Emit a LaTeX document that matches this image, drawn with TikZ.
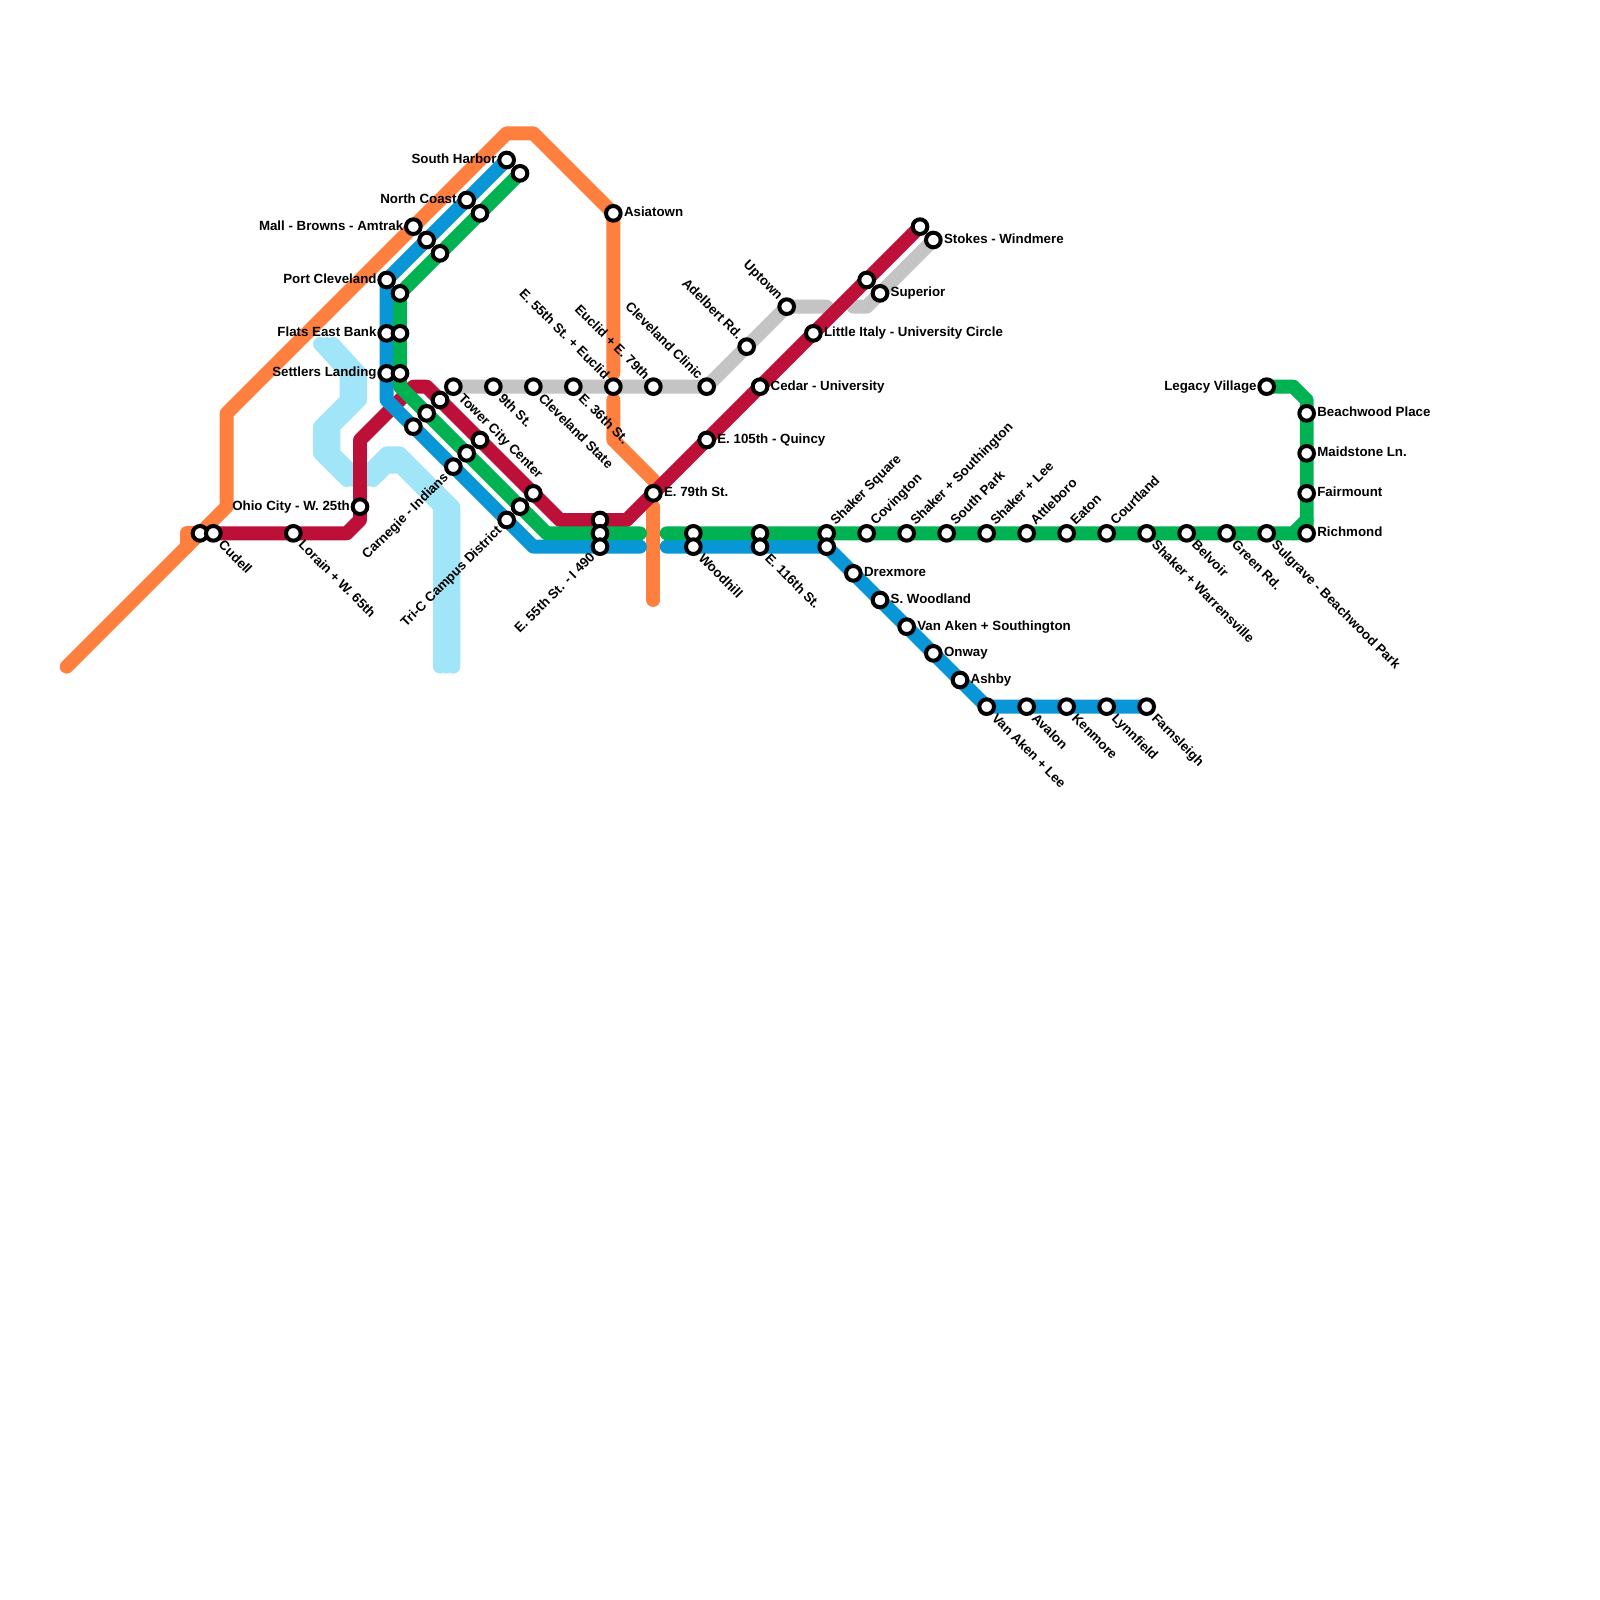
\documentclass[tikz,border=0pt]{standalone}
\usepackage{fontspec}
\setmainfont{Liberation Sans}
\usetikzlibrary{backgrounds}

\definecolor{rapidorange}{HTML}{FF7F3F}
\definecolor{rapidred}{HTML}{BD1038}
\definecolor{rapidblue}{HTML}{0896D7}
\definecolor{rapidgreen}{HTML}{00B251}
\definecolor{rapidgray}{HTML}{C4C4C4}
\definecolor{rapidsky}{HTML}{A0E5F8}

\begin{document}
\begin{tikzpicture}[
  x=0.25cm, y=-0.25cm,
  track/.style={line width=2.6mm, line cap=round, line join=round},
  orangeline/.style={track, draw=rapidorange},
  redline/.style={track, draw=rapidred},
  blueline/.style={track, draw=rapidblue},
  greenline/.style={track, draw=rapidgreen},
  grayline/.style={track, draw=rapidgray},
  skyline/.style={track, draw=rapidsky},
  stop/.style={circle, draw=black, fill=white, line width=0.75mm, minimum size=2.75mm, inner sep=0pt},
  lab/.style={inner sep=0pt, text height=1.75mm, text depth=0.45mm, text=black, font=\fontsize{7.1}{8}\selectfont\bfseries},
  toright/.style={label={[lab, anchor=west, label distance=0.18mm]0:#1}},
  toleft/.style={label={[lab, anchor=east, label distance=0.08mm]180:#1}},
  downright/.style={label={[lab, anchor=west, rotate=-45, label distance=0.6mm]-45:#1}},
  upleft/.style={label={[lab, anchor=east, rotate=-45, label distance=0.4mm]135:#1}},
  upright/.style={label={[lab, anchor=west, rotate=45, label distance=0.6mm]45:#1}},
  downleft/.style={label={[lab, anchor=east, rotate=45, label distance=0.4mm]225:#1}}
]
\useasboundingbox (0,0) rectangle (120,120);

\node[stop] (westend) at (15,40) {};
\node[stop, downright=Cudell] (cudell) at (16,40) {};
\node[stop, downright={Lorain + W. 65th}] (lorain) at (22,40) {};
\node[stop, toleft={Ohio City - W. 25th}] (ohiocity) at (27,38) {};
\node[stop, toleft={Mall - Browns - Amtrak}] (mall) at (31,17) {};
\node[stop] (mallblue) at (32,18) {};
\node[stop] (mallgreen) at (33,19) {};
\node[stop, toleft={North Coast}] (northcoast) at (35,15) {};
\node[stop] (northgreen) at (36,16) {};
\node[stop, toleft={South Harbor}] (southharbor) at (38,12) {};
\node[stop] (harborgreen) at (39,13) {};
\node[stop, toleft={Port Cleveland}] (portcleveland) at (29,21) {};
\node[stop] (portgreen) at (30,22) {};
\node[stop, toleft={Flats East Bank}] (flats) at (29,25) {};
\node[stop] (flatsgreen) at (30,25) {};
\node[stop, toleft={Settlers Landing}] (settlers) at (29,28) {};
\node[stop] (settlersgreen) at (30,28) {};
\node[stop, toright=Asiatown] (asiatown) at (46,16) {};

\node[stop, downright={Tower City Center}] (towercity) at (34,29) {};
\node[stop, downright={9th St.}] (ninth) at (37,29) {};
\node[stop, downright={Cleveland State}] (clevestate) at (40,29) {};
\node[stop, downright={E. 36th St.}] (east36) at (43,29) {};
\node[stop, upleft={E. 55th St. + Euclid}] (east55euclid) at (46,29) {};
\node[stop, upleft={Euclid + E. 79th}] (euclid79) at (49,29) {};
\node[stop, upleft={Cleveland Clinic}] (clinic) at (53,29) {};
\node[stop, upleft={Adelbert Rd.}] (adelbert) at (56,26) {};
\node[stop, upleft=Uptown] (uptown) at (59,23) {};
\node[stop, toright=Superior] (superior) at (66,22) {};
\node[stop, toright={Stokes - Windmere}] (stokes) at (70,18) {};

\node[stop] (towerblue) at (31,32) {};
\node[stop] (towergreen) at (32,31) {};
\node[stop] (towerred) at (33,30) {};
\node[stop, downleft={Carnegie - Indians}] (carnegie) at (34,35) {};
\node[stop] (carnegiegreen) at (35,34) {};
\node[stop] (carnegiered) at (36,33) {};
\node[stop, downleft={Tri-C Campus District}] (tric) at (38,39) {};
\node[stop] (tricgreen) at (39,38) {};
\node[stop] (tricred) at (40,37) {};
\node[stop] (i490red) at (45,39) {};
\node[stop] (i490green) at (45,40) {};
\node[stop, downleft={E. 55th St. - I 490}] (i490) at (45,41) {};

\node[stop, toright={E. 79th St.}] (east79) at (49,37) {};
\node[stop, toright={E. 105th - Quincy}] (east105) at (53,33) {};
\node[stop, toright={Cedar - University}] (cedar) at (57,29) {};
\node[stop, toright={Little Italy - University Circle}] (littleitaly) at (61,25) {};
\node[stop] (eastred) at (65,21) {};
\node[stop] (redend) at (69,17) {};

\node[stop] (woodgreen) at (52,40) {};
\node[stop, downright=Woodhill] (woodhill) at (52,41) {};
\node[stop] (east116green) at (57,40) {};
\node[stop, downright={E. 116th St.}] (east116) at (57,41) {};
\node[stop, upright={Shaker Square}] (shakersq) at (62,40) {};
\node[stop] (shakerblue) at (62,41) {};
\node[stop, upright=Covington] (covington) at (65,40) {};
\node[stop, upright={Shaker + Southington}] (shakersouth) at (68,40) {};
\node[stop, upright={South Park}] (southpark) at (71,40) {};
\node[stop, upright={Shaker + Lee}] (shakerlee) at (74,40) {};
\node[stop, upright=Attleboro] (attleboro) at (77,40) {};
\node[stop, upright=Eaton] (eaton) at (80,40) {};
\node[stop, upright=Courtland] (courtland) at (83,40) {};
\node[stop, downright={Shaker + Warrensville}] (warrensville) at (86,40) {};
\node[stop, downright=Belvoir] (belvoir) at (89,40) {};
\node[stop, downright={Green Rd.}] (greenrd) at (92,40) {};
\node[stop, downright={Sulgrave - Beachwood Park}] (sulgrave) at (95,40) {};
\node[stop, toright=Richmond] (richmond) at (98,40) {};
\node[stop, toright=Fairmount] (fairmount) at (98,37) {};
\node[stop, toright={Maidstone Ln.}] (maidstone) at (98,34) {};
\node[stop, toright={Beachwood Place}] (beachwood) at (98,31) {};
\node[stop, toleft={Legacy Village}] (legacy) at (95,29) {};

\node[stop, toright=Drexmore] (drexmore) at (64,43) {};
\node[stop, toright={S. Woodland}] (woodland) at (66,45) {};
\node[stop, toright={Van Aken + Southington}] (vanakensouth) at (68,47) {};
\node[stop, toright=Onway] (onway) at (70,49) {};
\node[stop, toright=Ashby] (ashby) at (72,51) {};
\node[stop, downright={Van Aken + Lee}] (vanakenlee) at (74,53) {};
\node[stop, downright=Avalon] (avalon) at (77,53) {};
\node[stop, downright=Kenmore] (kenmore) at (80,53) {};
\node[stop, downright=Lynnfield] (lynnfield) at (83,53) {};
\node[stop, downright=Farnsleigh] (farnsleigh) at (86,53) {};

\coordinate (orangewest) at (5,50);
\coordinate (orangespur) at (14,41);
\coordinate (orangespurtop) at (14,40);
\coordinate (orangeknee) at (17,38);
\coordinate (orangeup) at (17,31);
\coordinate (orangetopl) at (38,10);
\coordinate (orangetopr) at (40,10);
\coordinate (orangegapn) at (46,28);
\coordinate (orangegaps) at (46,30);
\coordinate (orangedrop) at (46,33);
\coordinate (orangejoin) at (49,36);
\coordinate (orangesouthn) at (49,38);
\coordinate (orangesouths) at (49,45);
\coordinate (redelbow) at (26,40);
\coordinate (redelbowb) at (27,39);
\coordinate (redrise) at (27,33);
\coordinate (redtopl) at (31,29);
\coordinate (redtopr) at (32,29);
\coordinate (redlow) at (42,39);
\coordinate (redlowr) at (47,39);
\coordinate (bluebend) at (29,30);
\coordinate (bluelow) at (40,41);
\coordinate (bluegapw) at (48,41);
\coordinate (bluegape) at (50,41);
\coordinate (greenbend) at (30,29);
\coordinate (greenlow) at (41,40);
\coordinate (greengapw) at (48,40);
\coordinate (greengape) at (50,40);
\coordinate (greencorner) at (97,29);
\coordinate (greencornerb) at (98,30);
\coordinate (greenchamfer) at (97,40);
\coordinate (greenchamferb) at (98,39);
\coordinate (graygapw) at (62,23);
\coordinate (graygape) at (64,23);
\coordinate (graybend) at (65,23);
\coordinate (skya1) at (24,25.8);
\coordinate (skya2) at (26,28);
\coordinate (skya3) at (26,30);
\coordinate (skya4) at (24,32);
\coordinate (skya5) at (24,34);
\coordinate (skya6) at (26,36);
\coordinate (skyb1) at (25,25.8);
\coordinate (skyb2) at (27,28);
\coordinate (skyb3) at (27,30);
\coordinate (skyb4) at (25,32);
\coordinate (skyb5) at (25,34);
\coordinate (skyb6) at (27,36);
\coordinate (skyb7) at (29,34);
\coordinate (skyb8) at (30,34);
\coordinate (skyb9) at (34,38);
\coordinate (skyb10) at (34,50);
\coordinate (skyc1) at (28,36);
\coordinate (skyc2) at (29,35);
\coordinate (skyc3) at (30,35);
\coordinate (skyc4) at (33,38);
\coordinate (skyc5) at (33,50);
\coordinate (skym1) at (24.5,25.8);
\coordinate (skym2) at (26.5,28);
\coordinate (skym3) at (26.5,30);
\coordinate (skym4) at (24.5,32);
\coordinate (skym5) at (24.5,34);
\coordinate (skym6) at (26.5,36);
\coordinate (skyn1) at (27.5,36);
\coordinate (skyn2) at (29,34.5);
\coordinate (skyn3) at (30,34.5);
\coordinate (skyn4) at (33.5,38);
\coordinate (skyn5) at (33.5,50);

\begin{pgfonlayer}{background}
\fill[white] (0,0) rectangle (120,120);
\draw[skyline] (skya1) -- (skya2) -- (skya3) -- (skya4) -- (skya5) -- (skya6);
\draw[skyline] (skyb1) -- (skyb2) -- (skyb3) -- (skyb4) -- (skyb5) -- (skyb6) -- (skyb7) -- (skyb8) -- (skyb9) -- (skyb10);
\draw[skyline] (skyc1) -- (skyc2) -- (skyc3) -- (skyc4) -- (skyc5);
\draw[skyline] (skym1) -- (skym2) -- (skym3) -- (skym4) -- (skym5) -- (skym6);
\draw[skyline] (skyn1) -- (skyn2) -- (skyn3) -- (skyn4) -- (skyn5);
\draw[orangeline] (westend.center) -- (orangespurtop) -- (orangespur);
\draw[orangeline] (orangewest) -- (orangeknee) -- (orangeup) -- (orangetopl) -- (orangetopr) -- (asiatown.center) -- (orangegapn);
\draw[orangeline] (orangegaps) -- (orangedrop) -- (orangejoin);
\draw[orangeline] (orangesouthn) -- (orangesouths);
\draw[grayline] (towercity.center) -- (clinic.center) -- (uptown.center) -- (graygapw);
\draw[grayline] (graygape) -- (graybend) -- (stokes.center);
\draw[redline] (cudell.center) -- (redelbow) -- (redelbowb) -- (redrise) -- (redtopl) -- (redtopr) -- (redlow) -- (redlowr) -- (redend.center);
\draw[blueline] (southharbor.center) -- (portcleveland.center) -- (bluebend) -- (bluelow) -- (bluegapw);
\draw[blueline] (bluegape) -- (shakerblue.center) -- (vanakenlee.center) -- (farnsleigh.center);
\draw[greenline] (harborgreen.center) -- (portgreen.center) -- (greenbend) -- (greenlow) -- (greengapw);
\draw[greenline] (greengape) -- (greenchamfer) -- (greenchamferb);
\draw[greenline] (greenchamfer) -- (richmond.center) -- (greencornerb) -- (greencorner) -- (legacy.center);
\end{pgfonlayer}
\end{tikzpicture}
\end{document}
